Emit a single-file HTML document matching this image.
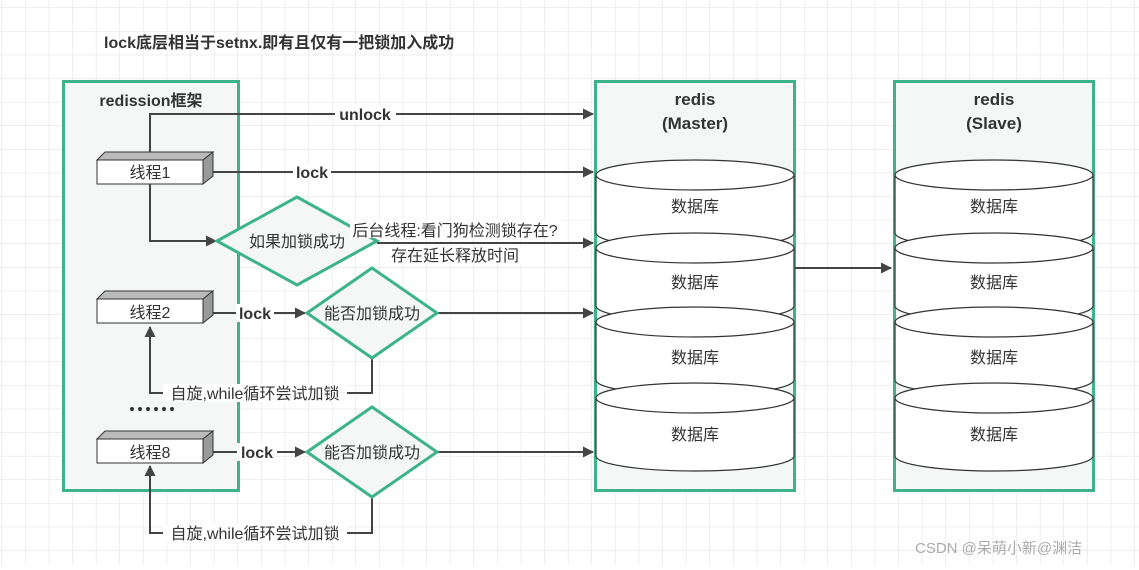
<!DOCTYPE html>
<html><head><meta charset="utf-8"><style>
body{margin:0;width:1139px;height:565px;overflow:hidden;background:#fff;}
svg text{font-family:"Liberation Sans","Noto Sans CJK SC",sans-serif;fill:#333;}
</style></head><body>
<svg width="1139" height="565" viewBox="0 0 1139 565" xmlns="http://www.w3.org/2000/svg">
<defs>
<pattern id="g" x="2" y="8" width="23.6" height="23.6" patternUnits="userSpaceOnUse">
<path d="M23.6 0V23.6M0 23.6H23.6" fill="none" stroke="#dedede" stroke-width="1"/>
</pattern>
<marker id="a" markerWidth="11" markerHeight="11" refX="10" refY="5.5" orient="auto" markerUnits="userSpaceOnUse">
<path d="M0,0L11,5.5L0,11z" fill="#444"/></marker>
</defs>
<rect width="1139" height="565" fill="url(#g)"/>
<text x="104" y="48" font-size="16" font-weight="bold">lock底层相当于setnx.即有且仅有一把锁加入成功</text>

<rect x="63.5" y="81.5" width="175" height="409" fill="#f4f7f6" stroke="#3db38c" stroke-width="3"/>
<rect x="595.5" y="81.5" width="199" height="409" fill="#f4f7f6" stroke="#3db38c" stroke-width="3"/>
<rect x="894.5" y="81.5" width="199" height="409" fill="#f4f7f6" stroke="#3db38c" stroke-width="3"/>
<text x="151" y="106" font-size="16" font-weight="bold" text-anchor="middle">redission框架</text>
<text x="695" y="105" font-size="17" font-weight="bold" text-anchor="middle">redis</text>
<text x="695" y="129" font-size="17" font-weight="bold" text-anchor="middle">(Master)</text>
<text x="994" y="105" font-size="17" font-weight="bold" text-anchor="middle">redis</text>
<text x="994" y="129" font-size="17" font-weight="bold" text-anchor="middle">(Slave)</text>

<g stroke="#333" stroke-width="1.2" fill="#fff">
<g id="cyls">
<path d="M596 175V233A99 15 0 0 0 794 233V175"/><ellipse cx="695" cy="175" rx="99" ry="15"/>
<path d="M596 248V306A99 15 0 0 0 794 306V248"/><ellipse cx="695" cy="248" rx="99" ry="15"/>
<path d="M596 322V380A99 15 0 0 0 794 380V322"/><ellipse cx="695" cy="322" rx="99" ry="15"/>
<path d="M596 398V456A99 15 0 0 0 794 456V398"/><ellipse cx="695" cy="398" rx="99" ry="15"/>
</g>
<use href="#cyls" x="299"/>
</g>
<g font-size="16" text-anchor="middle">
<text x="695" y="212">数据库</text><text x="695" y="288">数据库</text><text x="695" y="363">数据库</text><text x="695" y="440">数据库</text>
<text x="994" y="212">数据库</text><text x="994" y="288">数据库</text><text x="994" y="363">数据库</text><text x="994" y="440">数据库</text>
</g>

<g stroke="#444" stroke-width="2" fill="none">
<path d="M150 152V114H593" marker-end="url(#a)"/>
<path d="M203 172H593" marker-end="url(#a)"/>
<path d="M150 184V241H216" marker-end="url(#a)"/>
<path d="M377 243H593" marker-end="url(#a)"/>
<path d="M213 313H305" marker-end="url(#a)"/>
<path d="M437 313H593" marker-end="url(#a)"/>
<path d="M213 452H305" marker-end="url(#a)"/>
<path d="M437 452H593" marker-end="url(#a)"/>
<path d="M372 358V393H150V327" marker-end="url(#a)"/>
<path d="M372 497V533H150V466" marker-end="url(#a)"/>
<path d="M795 268H891" marker-end="url(#a)"/>
</g>

<g fill="#f4f7f6" stroke="#3db38c" stroke-width="3">
<path d="M217 241L297 197L377 241L297 285Z"/>
<path d="M307 313L372 268L437 313L372 358Z"/>
<path d="M307 452L372 407L437 452L372 497Z"/>
</g>
<g font-size="16" text-anchor="middle">
<text x="297" y="247">如果加锁成功</text>
<text x="372" y="319">能否加锁成功</text>
<text x="372" y="458">能否加锁成功</text>
</g>

<g stroke="#333" stroke-width="1">
<g id="box">
<path d="M97 160L105 152H213L203 160Z" fill="#bbb"/>
<path d="M203 160L213 152V176L203 184Z" fill="#999"/>
<rect x="97" y="160" width="106" height="24" fill="#fff"/>
</g>
<use href="#box" y="139"/>
<use href="#box" y="279"/>
</g>
<g font-size="16" text-anchor="middle">
<text x="150" y="178">线程1</text>
<text x="150" y="318">线程2</text>
<text x="150" y="458">线程8</text>
</g>

<g fill="#fff">
<rect x="335" y="105" width="61" height="18"/>
<rect x="293" y="163" width="38" height="18"/>
<rect x="350" y="220" width="212" height="18"/>
<rect x="388" y="246" width="134" height="18"/>
<rect x="236" y="304" width="38" height="18"/>
<rect x="237" y="443" width="40" height="18"/>
<rect x="163" y="384" width="184" height="18"/>
<rect x="163" y="524" width="184" height="18"/>
</g>
<g font-size="16" font-weight="bold" text-anchor="middle">
<text x="365" y="120">unlock</text>
<text x="312" y="178">lock</text>
<text x="255" y="319">lock</text>
<text x="257" y="458">lock</text>
</g>
<g font-size="16" text-anchor="middle">
<text x="455" y="236">后台线程:看门狗检测锁存在?</text>
<text x="455" y="261">存在延长释放时间</text>
<text x="255" y="399">自旋,while循环尝试加锁</text>
<text x="255" y="539">自旋,while循环尝试加锁</text>
</g>
<g fill="#333">
<circle cx="132" cy="409" r="2"/><circle cx="140" cy="409" r="2"/><circle cx="148" cy="409" r="2"/>
<circle cx="156" cy="409" r="2"/><circle cx="164" cy="409" r="2"/><circle cx="172" cy="409" r="2"/>
</g>
<text x="915" y="553" font-size="15" style="fill:#aaa">CSDN @呆萌小新@渊洁</text>
</svg>
</body></html>
